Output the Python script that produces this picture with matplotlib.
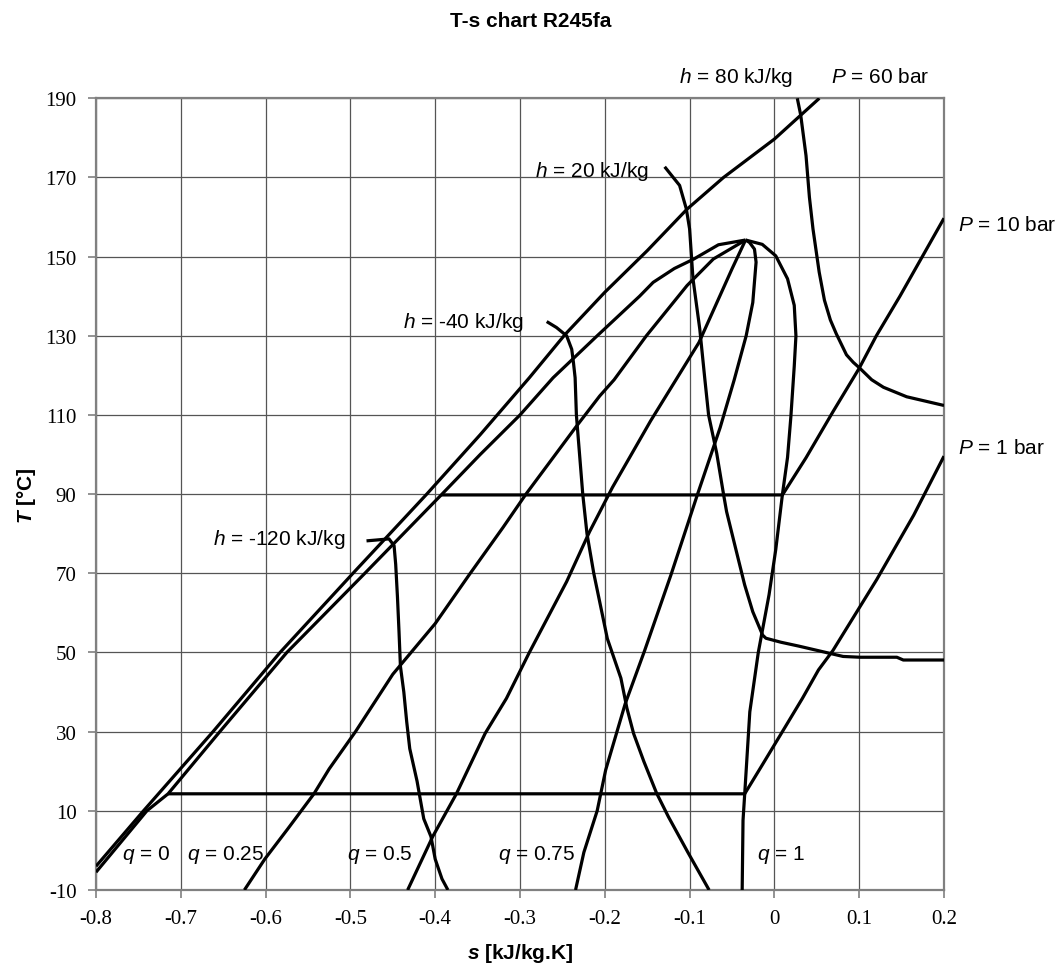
import matplotlib
matplotlib.use("Agg")
import matplotlib.pyplot as plt

plt.rcParams['font.family'] = ['Liberation Sans', 'DejaVu Sans']
plt.rcParams['axes.unicode_minus'] = False
plt.rcParams['mathtext.fontset'] = 'custom'
plt.rcParams['mathtext.rm'] = 'Liberation Sans'
plt.rcParams['mathtext.it'] = 'Liberation Sans:italic'
plt.rcParams['mathtext.bf'] = 'Liberation Sans:bold'
plt.rcParams['mathtext.bfit'] = 'Liberation Sans:italic:bold'

# saturated liquid (q = 0)
s_q0 = [-0.800, -0.740, -0.715, -0.654, -0.575, -0.483, -0.392, -0.347, -0.300,
        -0.261, -0.209, -0.159, -0.143, -0.118, -0.095, -0.066, -0.034]
T_q0 = [-5.5, 10, 14.3, 30, 50, 70, 90, 100, 110, 119.4, 130, 140, 143.5, 147,
        149.4, 153, 154.2]

# quality lines
s_q25 = [-0.625, -0.601, -0.574, -0.543, -0.525, -0.494, -0.450, -0.400, -0.360,
         -0.320, -0.293, -0.234, -0.206, -0.189, -0.151, -0.103, -0.072, -0.034]
T_q25 = [-10, -2.2, 5.4, 14.3, 20.6, 30, 44.5, 57.3, 69.6, 81.6, 90, 107, 114.8,
         118.9, 130, 142.7, 149.4, 154.2]

s_q50 = [-0.4325, -0.4027, -0.375, -0.341, -0.316, -0.289, -0.245, -0.218,
         -0.191, -0.146, -0.089, -0.050, -0.034]
T_q50 = [-10, 3.6, 14.3, 29.6, 38.4, 50, 67.9, 80.5, 91.7, 108.5, 128.3, 146.9,
         154.2]

s_q75 = [-0.2345, -0.2247, -0.209, -0.199, -0.176, -0.153, -0.122, -0.0906,
         -0.064, -0.0475, -0.0333, -0.0255, -0.0216, -0.0235, -0.0294, -0.034]
T_q75 = [-10, -0.5, 10, 20.3, 37, 50.5, 69.6, 90, 106.8, 118.8, 130, 138.4,
         148.6, 151.9, 153.6, 154.2]

# saturated vapour (q = 1)
s_q1 = [-0.038, -0.037, -0.035, -0.029, -0.019, -0.0063, 0.0016, 0.0095, 0.0155,
        0.0194, 0.0234, 0.0254, 0.0234, 0.0155, 0.0016, -0.0143, -0.034]
T_q1 = [-10, 7.6, 14.3, 35, 50, 64.6, 76, 90, 99.3, 109.5, 122.3, 130, 137.7,
        144.4, 150.2, 153.1, 154.2]

# isobars
s_p60 = [-0.800, -0.744, -0.662, -0.583, -0.497, -0.410, -0.347, -0.289, -0.247,
         -0.200, -0.150, -0.103, -0.060, 0.000, 0.053]
T_p60 = [-4.0, 10, 30, 50, 70, 90, 105, 119.4, 130.3, 141, 151.5, 162, 170,
         179.7, 190]

s_p10 = [-0.393, 0.0095, 0.0373, 0.069, 0.100, 0.1202, 0.148, 0.200]
T_p10 = [89.8, 89.8, 99.2, 110.8, 121.8, 130, 140, 159.7]

s_p1 = [-0.715, -0.035, -0.014, 0.0094, 0.033, 0.052, 0.069, 0.1206, 0.1643, 0.200]
T_p1 = [14.3, 14.3, 21.7, 30, 38.4, 45.6, 50.5, 68.4, 84.7, 99.6]

# isenthalps
s_hm120 = [-0.481, -0.470, -0.4545, -0.4485, -0.4466, -0.4445, -0.4427, -0.441,
           -0.437, -0.4336, -0.430, -0.4214, -0.4135, -0.405, -0.400, -0.392, -0.385]
T_hm120 = [78.2, 78.4, 78.7, 77.0, 72.3, 64.0, 55.4, 46.5, 40.0, 32.5, 25.7, 17.5,
           8.0, 3.5, -2.2, -7.2, -10]

s_hm40 = [-0.2685, -0.257, -0.245, -0.239, -0.237, -0.235, -0.2335, -0.229, -0.226,
          -0.221, -0.213, -0.197, -0.181, -0.174, -0.166, -0.154, -0.139, -0.125,
          -0.102, -0.077]
T_hm40 = [133.6, 132.1, 130, 126.6, 123.3, 119.4, 110, 98, 90, 80, 70, 53.5, 43.5,
          36, 29.5, 22.5, 14.5, 8.5, -0.5, -10]

s_h20 = [-0.1294, -0.1118, -0.1039, -0.100, -0.096, -0.088, -0.082, -0.0776,
         -0.068, -0.060, -0.0564, -0.0448, -0.0351, -0.0255, -0.0139, -0.010,
         0.0075, 0.029, 0.061, 0.081, 0.1008, 0.1444, 0.152, 0.200]
T_h20 = [172.7, 168, 162.1, 157, 144.4, 131.7, 119, 110, 100.3, 90, 85.6, 75.5,
         67.1, 60.3, 54.4, 53.6, 52.6, 51.6, 50, 49, 48.8, 48.8, 48.1, 48.1]

s_h80 = [0.027, 0.031, 0.0373, 0.0413, 0.0455, 0.0528, 0.059, 0.066, 0.073, 0.085,
         0.093, 0.1008, 0.1147, 0.1286, 0.156, 0.200]
T_h80 = [190, 185.8, 175.5, 165, 157, 146.1, 139, 134, 130.5, 125.2, 123.3, 121.8,
         118.9, 117, 114.6, 112.4]

x_ticks = [-0.8, -0.7, -0.6, -0.5, -0.4, -0.3, -0.2, -0.1, 0, 0.1, 0.2]
x_tick_labels = ['-0.8', '-0.7', '-0.6', '-0.5', '-0.4', '-0.3', '-0.2', '-0.1',
                 '0', '0.1', '0.2']
y_ticks = [-10, 10, 30, 50, 70, 90, 110, 130, 150, 170, 190]

fig = plt.figure(figsize=(10.62, 9.78), dpi=100)
ax = fig.add_axes([96 / 1062, 1 - 891 / 978, 848 / 1062, 791.7 / 978])

curves = [(s_q0, T_q0), (s_q25, T_q25), (s_q50, T_q50), (s_q75, T_q75),
          (s_q1, T_q1), (s_p60, T_p60), (s_p10, T_p10), (s_p1, T_p1),
          (s_hm120, T_hm120), (s_hm40, T_hm40), (s_h20, T_h20), (s_h80, T_h80)]
for s, T in curves:
    ax.plot(s, T, color='black', lw=2.3, solid_joinstyle='round',
            solid_capstyle='butt', zorder=3)

ax.set_xlim(-0.8, 0.2)
ax.set_ylim(-10, 190)
ax.set_xticks(x_ticks)
ax.set_xticklabels(x_tick_labels)
ax.set_yticks(y_ticks)
ax.grid(True, color='#555555', lw=0.9)
ax.set_axisbelow(True)
for side in ['left', 'right', 'top', 'bottom']:
    ax.spines[side].set_color('#808080')
    ax.spines[side].set_linewidth(1.6)
ax.tick_params(direction='out', length=6, width=1.2, color='#808080',
               labelsize=15, labelfontfamily='Liberation Serif')
ax.tick_params(axis='x', pad=8)
ax.tick_params(axis='y', pad=8)

ax.set_xlabel(r'$\mathbfit{s}$ [kJ/kg.K]', fontsize=15, fontweight='bold',
              labelpad=9)
ax.set_ylabel(r'$\mathbfit{T}$ [°C]', fontsize=15, fontweight='bold', labelpad=5)
fig.text(0.5, 0.978, 'T-s chart R245fa', ha='center', va='center',
         fontsize=15, fontweight='bold')

lab = dict(fontsize=15, va='center', clip_on=False)
ax.text(-0.506, 78.9, r'$h$ = -120 kJ/kg', ha='right', **lab)
ax.text(-0.296, 133.5, r'$h$ = -40 kJ/kg', ha='right', **lab)
ax.text(-0.1475, 171.7, r'$h$ = 20 kJ/kg', ha='right', **lab)
ax.text(0.022, 195.5, r'$h$ = 80 kJ/kg', ha='right', **lab)
ax.text(0.067, 195.5, r'$P$ = 60 bar', ha='left', **lab)
ax.text(0.2165, 158.2, r'$P$ = 10 bar', ha='left', **lab)
ax.text(0.2165, 101.9, r'$P$ = 1 bar', ha='left', **lab)
ax.text(-0.7697, -0.9, r'$q$ = 0', ha='left', **lab)
ax.text(-0.693, -0.9, r'$q$ = 0.25', ha='left', **lab)
ax.text(-0.5044, -0.9, r'$q$ = 0.5', ha='left', **lab)
ax.text(-0.3256, -0.9, r'$q$ = 0.75', ha='left', **lab)
ax.text(-0.0209, -0.9, r'$q$ = 1', ha='left', **lab)

fig.savefig('out.png', dpi=100)
